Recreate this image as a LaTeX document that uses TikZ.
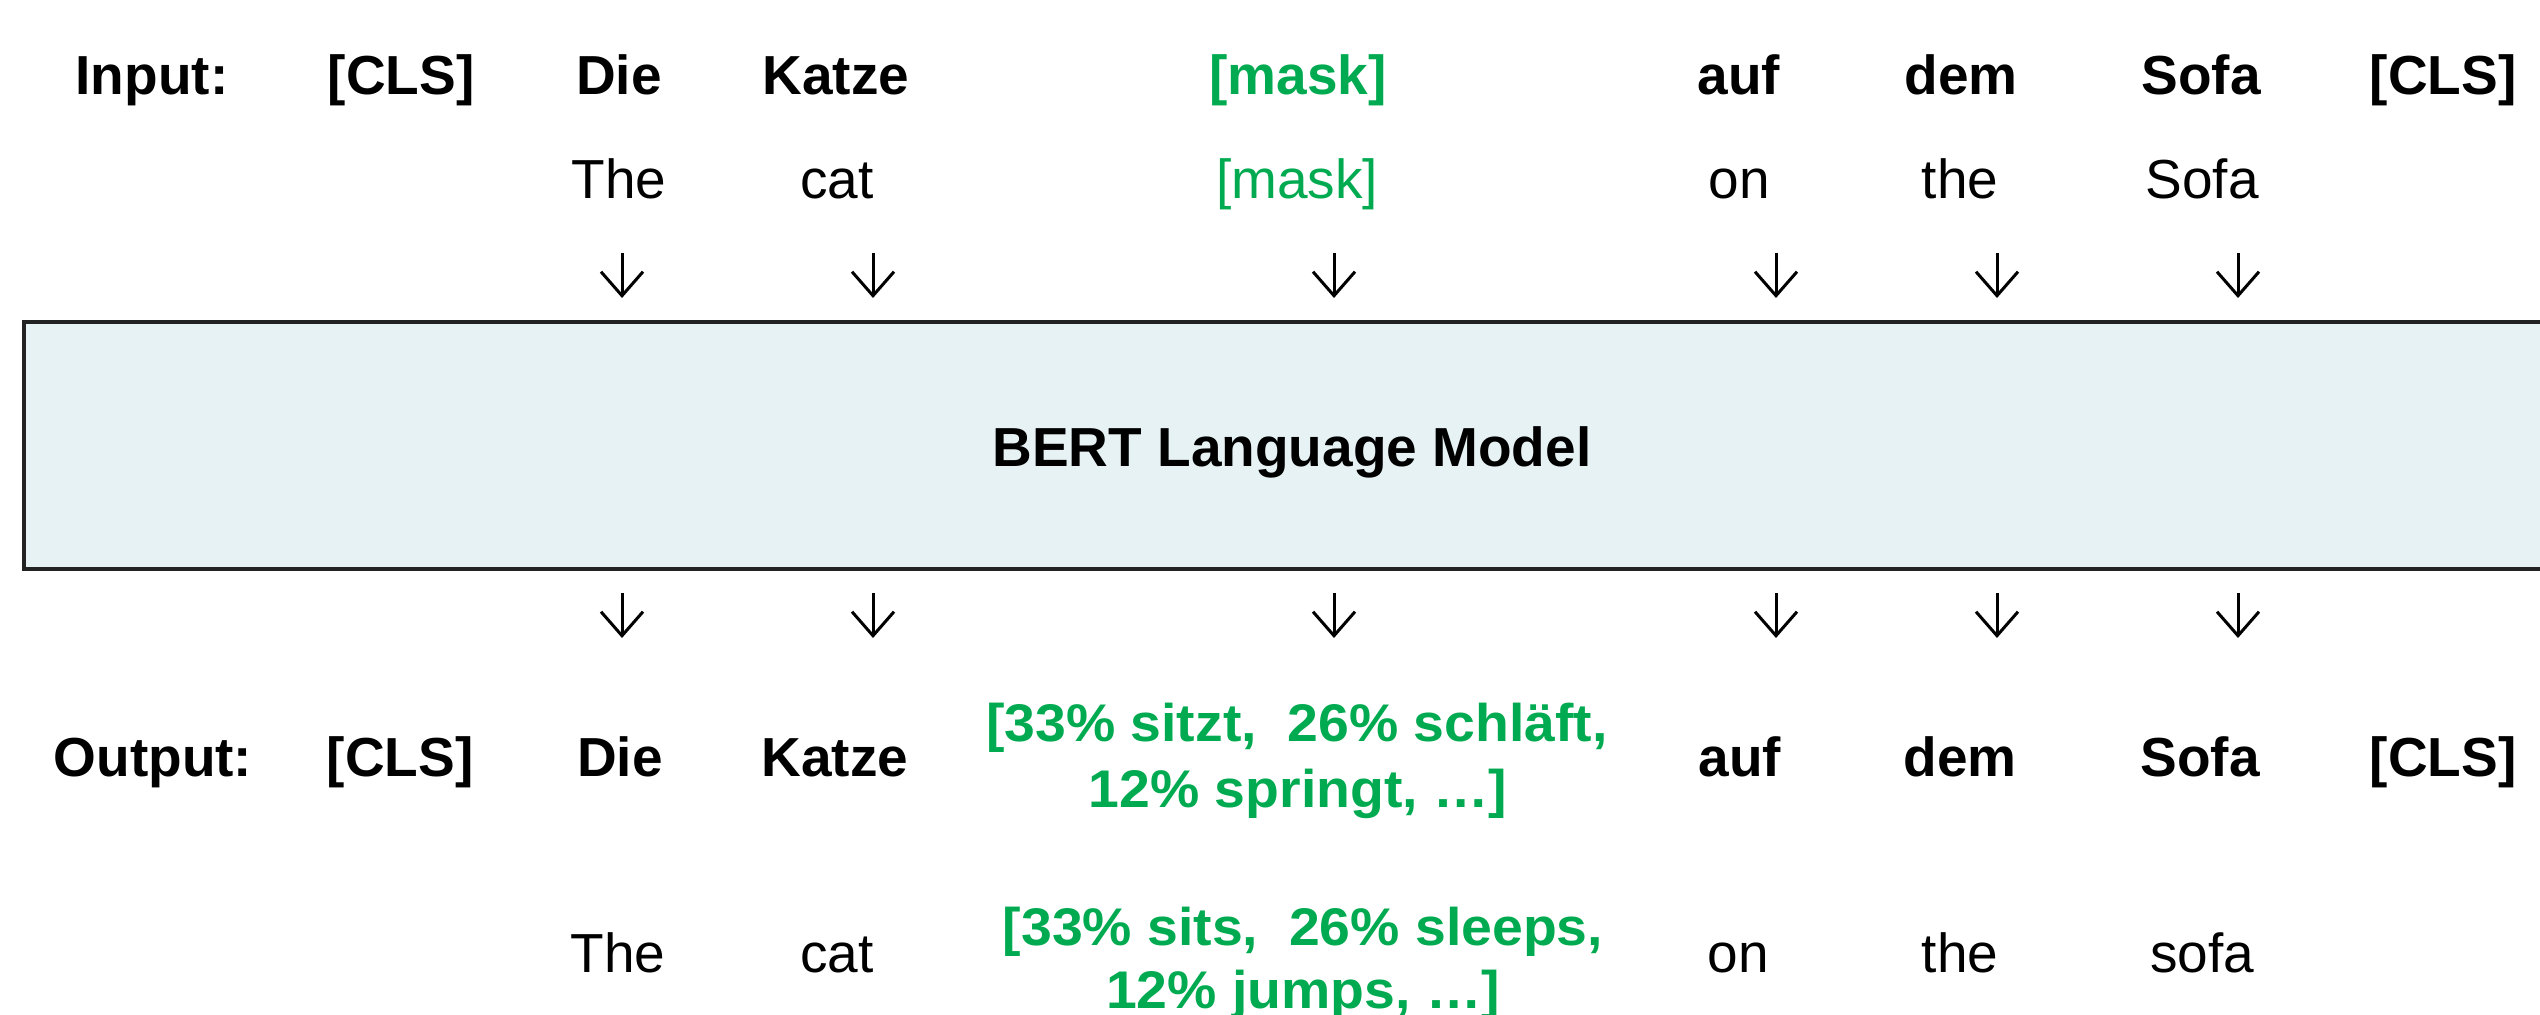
\documentclass[tikz,border=0pt]{standalone}
\usepackage{fontspec}
\setmainfont{Liberation Sans}
\newfontfamily\greenfont[FakeStretch=1.045]{Liberation Sans}
\usetikzlibrary{arrows.meta}
\definecolor{mgreen}{RGB}{0,170,80}
\definecolor{boxfill}{RGB}{231,242,244}
\definecolor{boxline}{RGB}{35,35,35}
\begin{document}
\begin{tikzpicture}[x=0.5pt,y=-0.5pt,
  txt/.style={anchor=base, inner sep=0pt, font=\fontsize{27.5pt}{33pt}\selectfont},
  btxt/.style={anchor=base, inner sep=0pt, font=\fontsize{27.5pt}{33pt}\selectfont\bfseries},
  gtxt/.style={anchor=base, inner sep=0pt, text=mgreen, font=\greenfont\fontsize{26.5pt}{32pt}\selectfont\bfseries},
  darr/.style={line width=1.5pt, -{Straight Barb[length=12pt,width=21pt]}}]
\clip (0,0) rectangle (2540,1015);
\fill[white] (0,0) rectangle (2540,1015);

% model box
\fill[boxfill] (24,322) rectangle (2560,569);
\draw[boxline, line width=1.9pt] (2560,322) -- (24,322) -- (24,569) -- (2560,569);
\node[btxt] (bert) at (1292,467) {BERT Language Model};

% input row
\node[btxt] (inlab) at (152,95) {Input:};
\node[btxt] (icls1) at (401,95) {[CLS]};
\node[btxt] (idie) at (619,95) {Die};
\node[btxt] (ikatze) at (836,95) {Katze};
\node[btxt, text=mgreen] (imask) at (1298,95) {[mask]};
\node[btxt] (iauf) at (1739,95) {auf};
\node[btxt] (idem) at (1961,95) {dem};
\node[btxt] (isofa) at (2201,95) {Sofa};
\node[btxt] (icls2) at (2443,95) {[CLS]};

% input translation
\node[txt] (ithe) at (619,199) {The};
\node[txt] (icat) at (837,199) {cat};
\node[txt, text=mgreen] (imask2) at (1297,199) {[mask]};
\node[txt] (ion) at (1739,199) {on};
\node[txt] (ithe2) at (1960,199) {the};
\node[txt] (isofa2) at (2202,199) {Sofa};

% arrows
\foreach \n/\x in {a/622,b/873,c/1334,d/1776,e/1997,f/2238}{
  \coordinate (t\n s) at (\x,253);
  \coordinate (t\n e) at (\x,298);
  \coordinate (b\n s) at (\x,593);
  \coordinate (b\n e) at (\x,638);
  \draw[darr] (t\n s) -- (t\n e);
  \draw[darr] (b\n s) -- (b\n e);
}

% output row
\node[btxt] (outlab) at (153,777) {Output:};
\node[btxt] (ocls1) at (400,777) {[CLS]};
\node[btxt] (odie) at (620,777) {Die};
\node[btxt] (okatze) at (835,777) {Katze};
\node[gtxt] (opred1) at (1297,742) {[33\% sitzt,\ \ 26\% schläft,};
\node[gtxt] (opred2) at (1298,808) {12\% springt, …]};
\node[btxt] (oauf) at (1740,777) {auf};
\node[btxt] (odem) at (1960,777) {dem};
\node[btxt] (osofa) at (2200,777) {Sofa};
\node[btxt] (ocls2) at (2443,777) {[CLS]};

% output translation
\node[txt] (othe) at (618,972) {The};
\node[txt] (ocat) at (837,972) {cat};
\node[gtxt] (epred1) at (1303,945) {[33\% sits,\ \ 26\% sleeps,};
\node[gtxt] (epred2) at (1303,1008) {12\% jumps, …]};
\node[txt] (oon) at (1738,972) {on};
\node[txt] (othe2) at (1960,972) {the};
\node[txt] (osofa2) at (2202,972) {sofa};
\end{tikzpicture}
\end{document}
